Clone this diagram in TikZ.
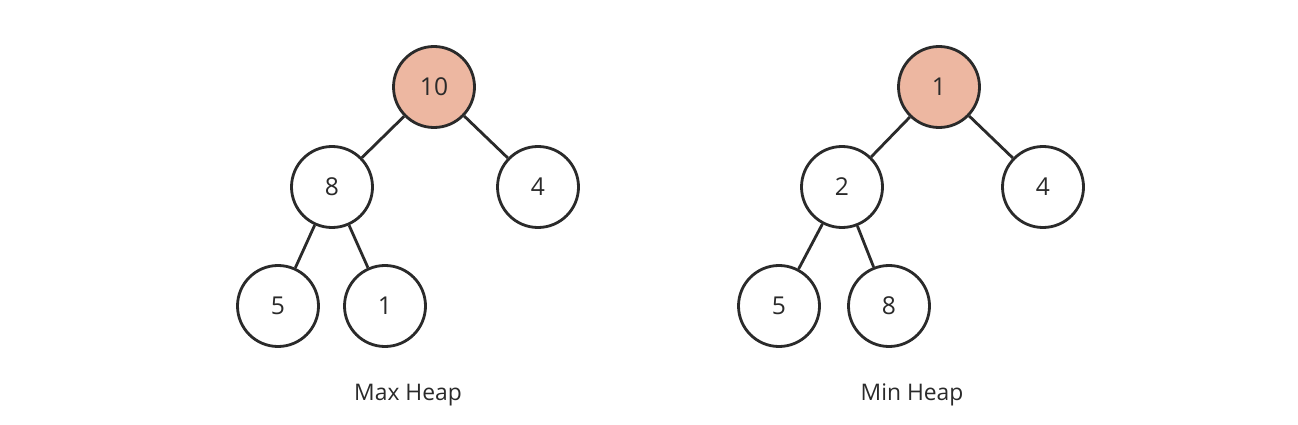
\documentclass[tikz,border=0pt]{standalone}
\usepackage{fontspec}
\setmainfont{Open Sans}
\usepackage{xcolor}
\definecolor{rootfill}{HTML}{EDB7A1}
\definecolor{ink}{HTML}{2A2A2A}

\tikzset{
  heapnode/.style={circle, draw=ink, line width=1.6pt, minimum size=1.62cm, inner sep=0pt, font=\fontsize{14}{16}\selectfont, text=ink},
  heaproot/.style={heapnode, fill=rootfill},
  heapedge/.style={draw=ink, line width=1.6pt},
  heaplabel/.style={font=\fontsize{13}{15}\selectfont, text=ink}
}

\begin{document}
\begin{tikzpicture}

\useasboundingbox (0,0) rectangle (25.96,8.48);

% max heap
\node [heaproot] (maxr) at (8.68,6.74) {10};
\node [heapnode] (maxa) at (6.64,4.74) {8};
\node [heapnode] (maxb) at (10.76,4.74) {4};
\node [heapnode] (maxc) at (5.56,2.36) {5};
\node [heapnode] (maxd) at (7.70,2.36) {1};

\draw [heapedge] (maxr) -- (maxa);
\draw [heapedge] (maxr) -- (maxb);
\draw [heapedge] (maxa) -- (maxc);
\draw [heapedge] (maxa) -- (maxd);

\node [heaplabel] (maxlabel) at (8.16,0.58) {Max Heap};

% min heap
\node [heaproot] (minr) at (18.78,6.74) {1};
\node [heapnode] (mina) at (16.84,4.74) {2};
\node [heapnode] (minb) at (20.86,4.74) {4};
\node [heapnode] (minc) at (15.58,2.36) {5};
\node [heapnode] (mind) at (17.78,2.36) {8};

\draw [heapedge] (minr) -- (mina);
\draw [heapedge] (minr) -- (minb);
\draw [heapedge] (mina) -- (minc);
\draw [heapedge] (mina) -- (mind);

\node [heaplabel] (minlabel) at (18.24,0.58) {Min Heap};

\end{tikzpicture}
\end{document}
